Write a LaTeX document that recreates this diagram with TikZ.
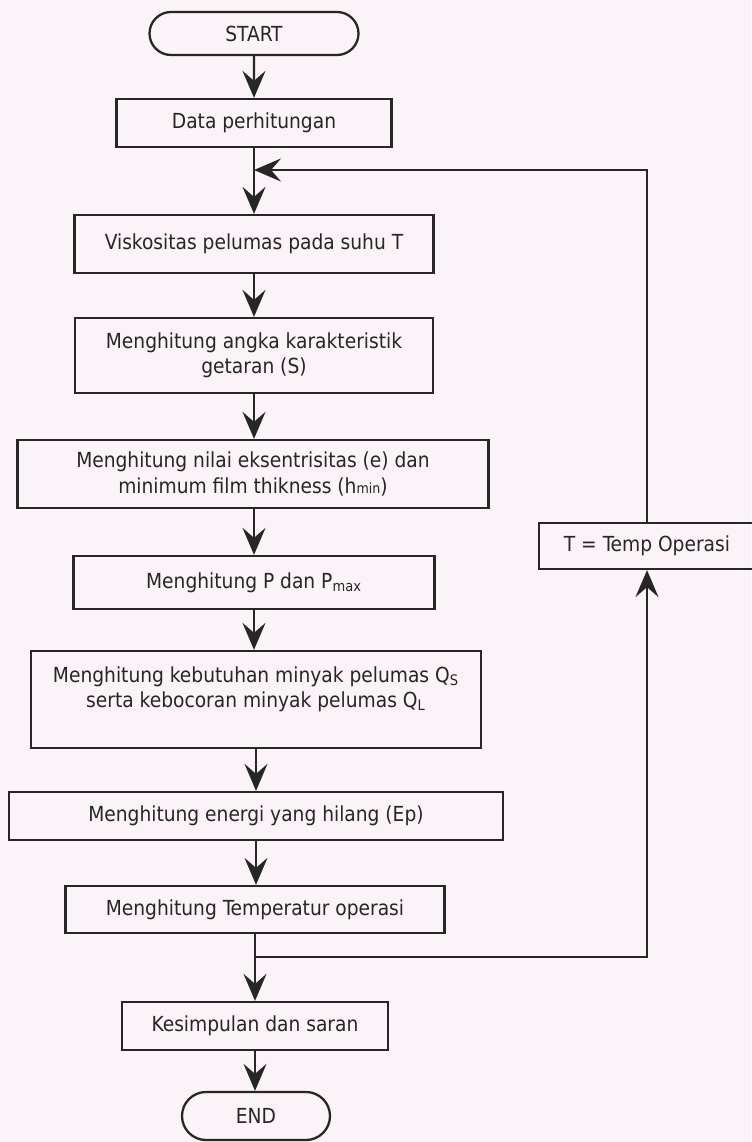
\documentclass[tikz,border=0pt]{standalone}
\usepackage{fontspec}
\setmainfont{DejaVu Sans Condensed}
\usetikzlibrary{arrows.meta,shapes.misc}
\definecolor{paper}{RGB}{250,243,247}
\definecolor{ink}{RGB}{38,38,38}

\begin{document}
\begin{tikzpicture}[x=0.02cm,y=-0.02cm,line width=1.3pt,color=ink,
    font=\fontsize{11.8}{14.4}\selectfont,
    box/.style={draw,rectangle,align=center,inner sep=0pt},
    term/.style={draw,rounded rectangle,inner sep=0pt},
    flow/.style={-{Stealth[length=0.54cm,width=0.46cm,inset=0.2cm]}}]
      \def\u{0.02cm}

      \fill[paper] (0,0) rectangle (751,1142);
      \useasboundingbox (0,0) rectangle (751,1142);

      \node[term,minimum width=209*\u,minimum height=43*\u] (start) at (254,33.5) {START};
      \node[box,minimum width=275*\u,minimum height=48*\u] (data) at (254,123) {Data perhitungan};
      \node[box,minimum width=359*\u,minimum height=58*\u] (visc) at (254,244) {Viskositas pelumas pada suhu T};
      \node[box,minimum width=358*\u,minimum height=75*\u] (angka) at (254,355.5)
        {Menghitung angka karakteristik\\getaran (S)};
      \node[box,minimum width=471*\u,minimum height=68*\u] (ecc) at (253,474)
        {Menghitung nilai eksentrisitas (e) dan\\minimum film thikness (h{\fontsize{8}{8}\selectfont min})};
      \node[box,minimum width=361*\u,minimum height=53*\u] (pmax) at (254,582.5)
        {Menghitung P dan P\textsubscript{max}};
      \node[box,minimum width=450*\u,minimum height=97*\u] (oil) at (256,699.5)
        {Menghitung kebutuhan minyak pelumas Q\textsubscript{S}\\serta kebocoran minyak pelumas Q\textsubscript{L}\\~};
      \node[box,minimum width=494*\u,minimum height=48*\u] (energy) at (256,816)
        {Menghitung energi yang hilang (Ep)};
      \node[box,minimum width=379*\u,minimum height=47*\u] (temp) at (255,909.5)
        {Menghitung Temperatur operasi};
      \node[box,minimum width=266*\u,minimum height=48*\u] (concl) at (255,1026) {Kesimpulan dan saran};
      \node[term,minimum width=148*\u,minimum height=48*\u] (stop) at (256,1116) {END};
      \node[box,minimum width=216*\u,minimum height=46*\u] (tset) at (647,546) {T = Temp Operasi};

      \coordinate (fb) at (254,170);
      \coordinate (jn) at (255,957);

      \draw[flow] (start) -- (data);
      \draw[flow] (data) -- (visc);
      \draw[flow] (visc) -- (angka);
      \draw[flow] (angka.south) -- (angka.south |- ecc.north);
      \draw[flow] (pmax.north |- ecc.south) -- (pmax);
      \draw[flow] (pmax.south) -- (pmax.south |- oil.north);
      \draw[flow] (oil.south) -- (oil.south |- energy.north);
      \draw[flow] (energy.south) -- (energy.south |- temp.north);
      \draw[flow] (temp) -- (concl);
      \draw[flow] (concl.south) -- (concl.south |- stop.north);

      % loop back with the new temperature
      \draw[flow] (jn) -| (tset);
      \draw[flow] (tset) |- (fb);
    \end{tikzpicture}
\end{document}
